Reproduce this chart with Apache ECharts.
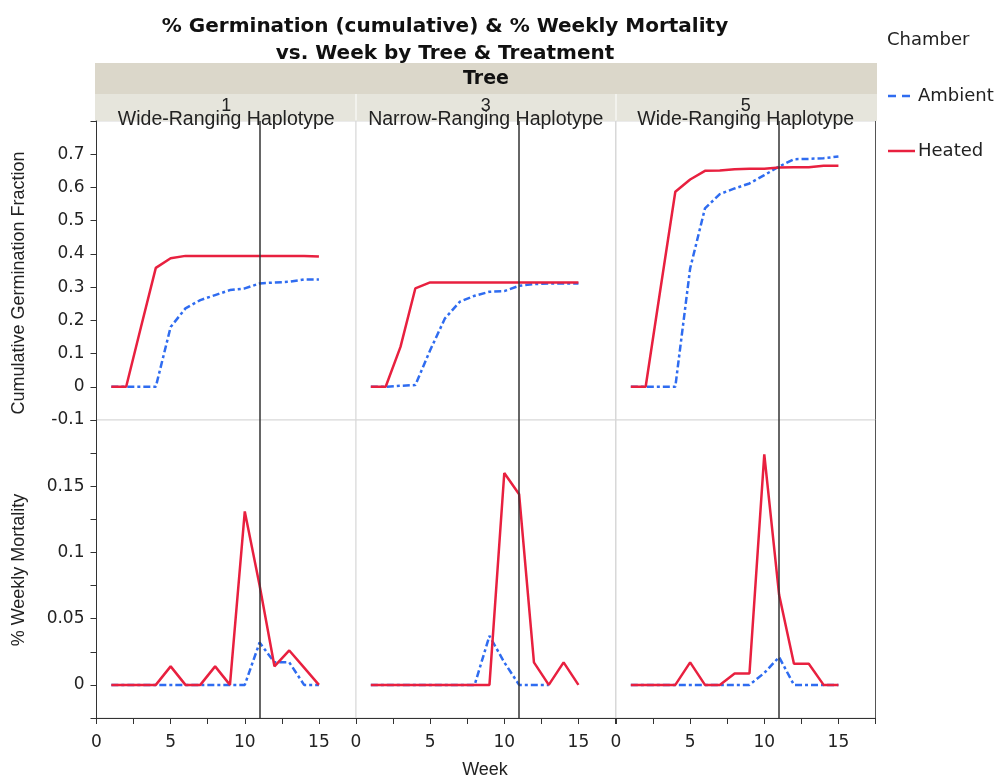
<!DOCTYPE html>
<html>
<head>
<meta charset="utf-8">
<title>% Germination (cumulative) & % Weekly Mortality</title>
<script src="https://cdn.jsdelivr.net/npm/echarts@6/dist/echarts.min.js"></script>
<style>
  html, body { margin: 0; padding: 0; background: #fff; }
  #chart { width: 998px; height: 779px; }
</style>
</head>
<body>
<div id="chart"></div>
<script>
// ---- data -------------------------------------------------------------
const weeks = [1, 2, 3, 4, 5, 6, 7, 8, 9, 10, 11, 12, 13, 14, 15];
const trees = ['1', '3', '5'];
const haplotypes = ['Wide-Ranging Haplotype', 'Narrow-Ranging Haplotype', 'Wide-Ranging Haplotype'];
const chambers = ['Ambient', 'Heated'];
const refWeek = 11;

// cumulative germination fraction
const germ1Ambient = [0, 0, 0, 0, 0.18, 0.236, 0.261, 0.276, 0.291, 0.296, 0.311, 0.314, 0.316, 0.323, 0.323];
const germ1Heated  = [0, 0, 0.18, 0.358, 0.387, 0.394, 0.394, 0.394, 0.394, 0.394, 0.394, 0.394, 0.394, 0.394, 0.392];
const germ3Ambient = [0, 0, 0.003, 0.005, 0.11, 0.206, 0.256, 0.274, 0.286, 0.288, 0.304, 0.309, 0.311, 0.311, 0.311];
const germ3Heated  = [0, 0, 0.12, 0.296, 0.314, 0.314, 0.314, 0.314, 0.314, 0.314, 0.314, 0.314, 0.314, 0.314, 0.314];
const germ5Ambient = [0, 0, 0, 0, 0.356, 0.537, 0.58, 0.597, 0.612, 0.637, 0.663, 0.685, 0.686, 0.688, 0.693];
const germ5Heated  = [0, 0, 0.295, 0.587, 0.624, 0.65, 0.651, 0.655, 0.656, 0.656, 0.66, 0.661, 0.661, 0.665, 0.665];

// weekly mortality
const mort1Ambient = [0, 0, 0, 0, 0, 0, 0, 0, 0, 0, 0.032, 0.017, 0.017, 0, 0];
const mort1Heated  = [0, 0, 0, 0, 0.014, 0, 0, 0.014, 0, 0.131, 0.075, 0.014, 0.026, 0.013, 0];
const mort3Ambient = [0, 0, 0, 0, 0, 0, 0, 0, 0.037, 0.017, 0, 0, 0, null, null];
const mort3Heated  = [0, 0, 0, 0, 0, 0, 0, 0, 0, 0.16, 0.144, 0.017, 0, 0.017, 0];
const mort5Ambient = [0, 0, 0, 0, 0, 0, 0, 0, 0, 0.009, 0.021, 0, 0, 0, 0];
const mort5Heated  = [0, 0, 0, 0, 0.017, 0, 0, 0.0086, 0.0086, 0.174, 0.068, 0.016, 0.016, 0, 0];

// axis tick values
const germTicks = [-0.1, 0, 0.1, 0.2, 0.3, 0.4, 0.5, 0.6, 0.7];
const mortTicks = [0, 0.05, 0.1, 0.15];
const weekTicks = [0, 5, 10, 15];

// ---- layout & style ---------------------------------------------------
const AMB = '#2f6cf0';
const HEAT = '#e8203f';
const colLeft = [96.5, 356, 616];
const colWidth = 259.5;
const rowTop = [121, 420];
const rowHeight = [299, 298];
const tickFont = { fontFamily: 'DejaVu Sans', fontSize: 17, color: '#222' };

const germRows = [[germ1Ambient, germ1Heated], [germ3Ambient, germ3Heated], [germ5Ambient, germ5Heated]];
const mortRows = [[mort1Ambient, mort1Heated], [mort3Ambient, mort3Heated], [mort5Ambient, mort5Heated]];

function pairs(vals) {
  const out = [];
  weeks.forEach((w, i) => { if (vals[i] !== null) out.push([w, vals[i]]); });
  return out;
}
function near(v, list) { return list.some(t => Math.abs(t - v) < 1e-6); }

const grids = [], xAxes = [], yAxes = [], series = [];
let gi = 0;
for (let r = 0; r < 2; r++) {
  for (let c = 0; c < 3; c++) {
    grids.push({
      left: colLeft[c], top: rowTop[r], width: colWidth, height: rowHeight[r],
      show: true, borderColor: '#d8d8d8', borderWidth: 1, backgroundColor: '#fff'
    });
    const bottomRow = r === 1;
    xAxes.push({
      type: 'value', gridIndex: gi, min: 0, max: 17.5, interval: 2.5,
      axisLine: { show: bottomRow, onZero: false, lineStyle: { color: '#333', width: 1 } },
      axisTick: { show: bottomRow, length: 6, lineStyle: { color: '#333' } },
      axisLabel: Object.assign({
        show: bottomRow, margin: 16,
        formatter: v => near(v, weekTicks) ? String(Math.round(v)) : ''
      }, tickFont),
      splitLine: { show: false }
    });
    const leftCol = c === 0;
    if (r === 0) {
      yAxes.push({
        type: 'value', gridIndex: gi, min: -0.1, max: 0.8, interval: 0.1,
        axisLine: { show: leftCol, lineStyle: { color: '#333', width: 1 } },
        axisTick: { show: leftCol, length: 6, lineStyle: { color: '#333' } },
        axisLabel: Object.assign({
          show: leftCol, margin: 12,
          formatter: v => near(v, germTicks) ? String(Math.round(v * 10) / 10) : ''
        }, tickFont),
        splitLine: { show: false }
      });
    } else {
      yAxes.push({
        type: 'value', gridIndex: gi, min: -0.025, max: 0.2, interval: 0.025,
        axisLine: { show: leftCol, lineStyle: { color: '#333', width: 1 } },
        axisTick: { show: leftCol, length: 6, lineStyle: { color: '#333' } },
        axisLabel: Object.assign({
          show: leftCol, margin: 12,
          formatter: v => near(v, mortTicks) ? String(Math.round(v * 100) / 100) : ''
        }, tickFont),
        splitLine: { show: false }
      });
    }
    const pair = (r === 0 ? germRows : mortRows)[c];
    series.push({
      name: 'Ambient', type: 'line', xAxisIndex: gi, yAxisIndex: gi, z: 2,
      data: pairs(pair[0]), symbol: 'none', silent: true, animation: false,
      lineStyle: { color: AMB, width: 2.5, type: [7, 3, 3, 3] }
    });
    series.push({
      name: 'Heated', type: 'line', xAxisIndex: gi, yAxisIndex: gi, z: 3,
      data: pairs(pair[1]), symbol: 'none', silent: true, animation: false,
      lineStyle: { color: HEAT, width: 2.5 }
    });
    // reference week line
    series.push({
      type: 'line', xAxisIndex: gi, yAxisIndex: gi, z: 4, data: [], silent: true, animation: false,
      markLine: {
        silent: true, symbol: ['none', 'none'], label: { show: false }, animation: false,
        lineStyle: { color: '#333', width: 1.5, type: 'solid' },
        data: [{ xAxis: refWeek }]
      }
    });
    gi++;
  }
}

// facet strips, axis titles and legend
const graphics = [];
const stripLeft = 95, stripRight = 877;
graphics.push({ type: 'rect', shape: { x: stripLeft, y: 63, width: stripRight - stripLeft, height: 31 }, style: { fill: '#dbd7ca' } });
graphics.push({ type: 'text', x: 486, y: 79, style: { text: 'Tree', fontFamily: 'DejaVu Sans', fontWeight: 'bold', fontSize: 19, fill: '#111', align: 'center', verticalAlign: 'middle' } });
for (let c = 0; c < 3; c++) {
  const x0 = c === 0 ? stripLeft : colLeft[c] + 0.5;
  const x1 = c === 2 ? stripRight : colLeft[c + 1] - 0.5;
  graphics.push({ type: 'rect', shape: { x: x0, y: 94, width: x1 - x0, height: 27 }, style: { fill: '#e6e5dc' } });
  const cx = colLeft[c] + colWidth / 2;
  graphics.push({ type: 'text', x: cx, y: 106, style: { text: trees[c], fontFamily: 'Liberation Sans', fontSize: 18, fill: '#222', align: 'center', verticalAlign: 'middle' } });
  graphics.push({ type: 'text', x: cx, y: 120, style: { text: haplotypes[c], fontFamily: 'Liberation Sans', fontSize: 19.5, fill: '#222', align: 'center', verticalAlign: 'middle' } });
}
graphics.push({ type: 'line', shape: { x1: 875.5, y1: 121, x2: 875.5, y2: 718 }, style: { stroke: '#555', lineWidth: 1 } });
graphics.push({ type: 'text', x: 19, y: 283, rotation: Math.PI / 2, style: { text: 'Cumulative Germination Fraction', fontFamily: 'Liberation Sans', fontSize: 18, fill: '#222', align: 'center', verticalAlign: 'middle' } });
graphics.push({ type: 'text', x: 19, y: 570, rotation: Math.PI / 2, style: { text: '% Weekly Mortality', fontFamily: 'Liberation Sans', fontSize: 18, fill: '#222', align: 'center', verticalAlign: 'middle' } });
graphics.push({ type: 'text', x: 485, y: 770, style: { text: 'Week', fontFamily: 'Liberation Sans', fontSize: 18, fill: '#222', align: 'center', verticalAlign: 'middle' } });
// legend
graphics.push({ type: 'text', x: 887, y: 40, style: { text: 'Chamber', fontFamily: 'DejaVu Sans', fontSize: 18, fill: '#222', align: 'left', verticalAlign: 'middle' } });
graphics.push({ type: 'line', shape: { x1: 888, y1: 96, x2: 912, y2: 96 }, style: { stroke: AMB, lineWidth: 2.5, lineDash: [8, 6] } });
graphics.push({ type: 'text', x: 918, y: 96, style: { text: chambers[0], fontFamily: 'DejaVu Sans', fontSize: 18, fill: '#222', align: 'left', verticalAlign: 'middle' } });
graphics.push({ type: 'line', shape: { x1: 888, y1: 151, x2: 915, y2: 151 }, style: { stroke: HEAT, lineWidth: 2.5 } });
graphics.push({ type: 'text', x: 918, y: 151, style: { text: chambers[1], fontFamily: 'DejaVu Sans', fontSize: 18, fill: '#222', align: 'left', verticalAlign: 'middle' } });

const chart = echarts.init(document.getElementById('chart'), null, { renderer: 'canvas' });
chart.setOption({
  animation: false,
  backgroundColor: '#fff',
  title: {
    text: '% Germination (cumulative) & % Weekly Mortality\nvs. Week by Tree & Treatment',
    left: 440, top: 8, textAlign: 'center',
    textStyle: { fontFamily: 'DejaVu Sans', fontWeight: 'bold', fontSize: 20, lineHeight: 27, color: '#111' }
  },
  grid: grids,
  xAxis: xAxes,
  yAxis: yAxes,
  series: series,
  graphic: graphics
});
</script>
</body>
</html>
